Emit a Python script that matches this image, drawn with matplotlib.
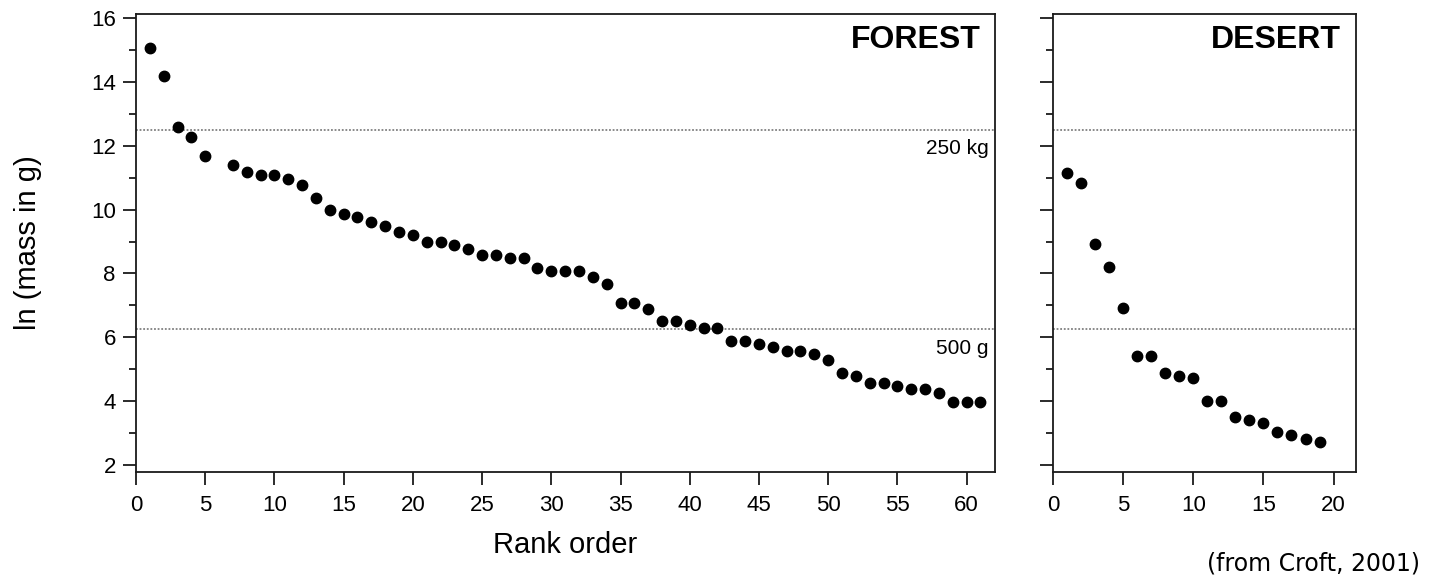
import numpy as np
import matplotlib
matplotlib.use("Agg")
import matplotlib.pyplot as plt
from matplotlib.ticker import MultipleLocator

# data (ln of body mass in g, ranked)
forest_rank = [1, 2, 3, 4, 5] + list(range(7, 62))
forest_lnmass = [15.06, 14.19, 12.59, 12.28, 11.68,
                 11.39, 11.17, 11.09, 11.09, 10.97, 10.78, 10.38, 9.98, 9.87, 9.78,
                 9.60, 9.49, 9.29, 9.19, 8.99, 8.99, 8.88, 8.78, 8.58, 8.58,
                 8.48, 8.48, 8.17, 8.08, 8.08, 8.08, 7.88, 7.68, 7.08, 7.08,
                 6.88, 6.51, 6.51, 6.40, 6.29, 6.29, 5.88, 5.88, 5.78, 5.69,
                 5.57, 5.57, 5.48, 5.29, 4.87, 4.78, 4.57, 4.57, 4.47, 4.37,
                 4.37, 4.26, 3.97, 3.97, 3.97]

desert_rank = list(range(1, 20))
desert_lnmass = [11.14, 10.82, 8.92, 8.21, 6.92, 5.41, 5.41, 4.89, 4.78, 4.71,
                 4.00, 4.00, 3.50, 3.41, 3.31, 3.02, 2.93, 2.82, 2.73]

thresholds = [12.5, 6.25]
threshold_labels = ["250 kg", "500 g"]

plt.rcParams['font.family'] = ['Liberation Sans', 'DejaVu Sans']

W, H = 1430, 579
fig = plt.figure(figsize=(W / 100, H / 100), dpi=100)

ax1 = fig.add_axes([136 / W, (H - 472) / H, 859 / W, 458 / H])
ax2 = fig.add_axes([1053 / W, (H - 472) / H, 303 / W, 458 / H])


def style(ax, xmax, labels=True):
    ax.set_ylim(1.78, 16.13)
    ax.set_xlim(0, xmax)
    ax.xaxis.set_major_locator(MultipleLocator(5))
    ax.yaxis.set_major_locator(MultipleLocator(2))
    ax.yaxis.set_minor_locator(MultipleLocator(1))
    ax.tick_params(axis='both', which='major', direction='out', length=9.5,
                   width=1.3, labelsize=16, color='0.1')
    ax.tick_params(axis='y', which='minor', direction='out', length=5, width=1.3,
                   color='0.1')
    ax.tick_params(axis='x', pad=7)
    ax.tick_params(axis='y', pad=5)
    if not labels:
        ax.tick_params(axis='y', labelleft=False)
    for s in ax.spines.values():
        s.set_linewidth(1.3)
        s.set_color('0.1')
    for t in thresholds:
        ax.axhline(t, color='0.5', ls=(0, (1, 1)), lw=1.3, zorder=1)


style(ax1, 62.05)
style(ax2, 21.6, labels=False)

ax1.plot(forest_rank, forest_lnmass, 'o', color='black', ms=7.5, zorder=3)
ax2.plot(desert_rank, desert_lnmass, 'o', color='black', ms=7.5, zorder=3)

for t, lab in zip(thresholds, threshold_labels):
    ax1.text(61.6, t - 0.3, lab, ha='right', va='top', fontsize=15)

ax1.text(0.983, 0.975, "FOREST", transform=ax1.transAxes, ha='right', va='top',
         fontsize=23, fontweight='bold')
ax2.text(0.95, 0.975, "DESERT", transform=ax2.transAxes, ha='right', va='top',
         fontsize=23, fontweight='bold')

fig.text(28 / W, (H - 243) / H, "ln (mass in g)", rotation=90, ha='center',
         va='center', fontsize=21)
fig.text(565 / W, (H - 545) / H, "Rank order", ha='center', va='center',
         fontsize=21)
fig.text(1420 / W, (H - 570) / H, "(from Croft, 2001)", ha='right',
         va='baseline', fontsize=17, family='DejaVu Sans')

fig.savefig("out.png", dpi=100)
